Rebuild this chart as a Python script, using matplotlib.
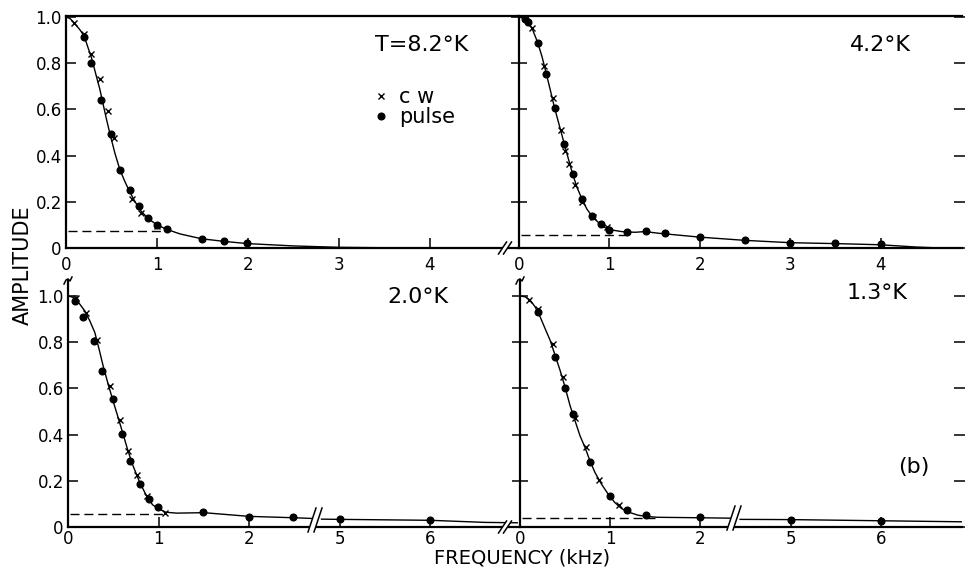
import numpy as np
import matplotlib
matplotlib.use("Agg")
import matplotlib.pyplot as plt
from matplotlib.lines import Line2D
from matplotlib.patches import Polygon
from matplotlib.transforms import Affine2D

W, H = 965, 568

# ---------------- data: frequency (kHz), amplitude ----------------
# T = 8.2 K
cw_82_f = [0.09, 0.20, 0.28, 0.37, 0.46, 0.53, 0.73, 0.82, 1.0]
cw_82_a = [0.975, 0.926, 0.838, 0.730, 0.595, 0.475, 0.211, 0.150, 0.097]
pl_82_f = [0.20, 0.275, 0.39, 0.49, 0.59, 0.70, 0.80, 0.90, 1.0, 1.11, 1.49, 1.74, 1.99]
pl_82_a = [0.912, 0.799, 0.641, 0.492, 0.338, 0.251, 0.182, 0.131, 0.100, 0.082, 0.038, 0.029, 0.020]
fit_82_f = [0, 0.044, 0.088, 0.154, 0.198, 0.245, 0.282, 0.330, 0.374, 0.410, 0.447, 0.491,
            0.538, 0.593, 0.648, 0.696, 0.758, 0.824, 0.905, 0.996, 1.106, 1.253, 1.49, 1.75,
            2.0, 2.5, 3.0, 3.5, 4.0, 5.0]
fit_82_a = [1.0, 0.993, 0.975, 0.944, 0.918, 0.864, 0.821, 0.749, 0.684, 0.619, 0.554, 0.482,
            0.410, 0.338, 0.287, 0.247, 0.201, 0.160, 0.127, 0.101, 0.081, 0.061, 0.040, 0.028,
            0.019, 0.009, 0.003, 0.001, 0.0, 0.0]
base_82 = (0.075, 1.1)

# T = 4.2 K
cw_42_f = [0.143, 0.279, 0.371, 0.467, 0.511, 0.555, 0.621, 0.70, 0.82, 0.97]
cw_42_a = [0.952, 0.789, 0.648, 0.509, 0.419, 0.364, 0.274, 0.20, 0.135, 0.09]
pl_42_f = [0.063, 0.099, 0.206, 0.301, 0.393, 0.50, 0.592, 0.695, 0.805, 0.908, 1.0, 1.2,
           1.404, 1.61, 2.0, 2.5, 3.0, 3.5, 4.0]
pl_42_a = [0.99, 0.977, 0.887, 0.754, 0.607, 0.451, 0.321, 0.212, 0.139, 0.103, 0.078, 0.071,
           0.074, 0.067, 0.048, 0.033, 0.023, 0.020, 0.016]
fit_42_f = [0, 0.033, 0.099, 0.143, 0.206, 0.254, 0.301, 0.346, 0.393, 0.445, 0.5, 0.548,
            0.592, 0.64, 0.695, 0.75, 0.805, 0.879, 0.952, 1.026, 1.136, 1.283, 1.393, 1.54,
            2.0, 2.5, 3.0, 3.5, 4.0, 4.2, 4.4, 4.6, 5.0]
fit_42_a = [1.0, 0.996, 0.977, 0.952, 0.890, 0.829, 0.756, 0.684, 0.607, 0.532, 0.452, 0.383,
            0.322, 0.264, 0.213, 0.169, 0.139, 0.110, 0.088, 0.078, 0.071, 0.068, 0.071, 0.064,
            0.047, 0.033, 0.023, 0.019, 0.014, 0.009, 0.004, 0.001, 0.0]
base_42 = (0.055, 1.2)

# T = 2.0 K
cw_20_f = [0.088, 0.197, 0.325, 0.467, 0.569, 0.668, 0.759, 0.869, 1.073]
cw_20_a = [0.989, 0.925, 0.809, 0.61, 0.465, 0.329, 0.225, 0.136, 0.060]
pl_20_f = [0.077, 0.168, 0.288, 0.380, 0.496, 0.595, 0.690, 0.796, 0.898, 0.989, 1.489,
           2.0, 2.49, 5.0, 6.0]
pl_20_a = [0.978, 0.907, 0.806, 0.677, 0.552, 0.402, 0.287, 0.187, 0.121, 0.085, 0.063,
           0.045, 0.042, 0.033, 0.030]
fit_20_f = [0, 0.04, 0.088, 0.131, 0.186, 0.241, 0.296, 0.343, 0.387, 0.442, 0.496, 0.551,
            0.606, 0.66, 0.715, 0.788, 0.861, 0.934, 1.007, 1.08, 1.2, 1.5, 2.0, 2.5, 2.7]
fit_20_a = [1.0, 0.996, 0.986, 0.964, 0.935, 0.892, 0.842, 0.770, 0.699, 0.620, 0.548, 0.477,
            0.405, 0.333, 0.268, 0.197, 0.139, 0.096, 0.078, 0.064, 0.060, 0.062, 0.046,
            0.040, 0.037]
tail_20_f = [4.8, 5.0, 6.0, 6.6, 7.0]
tail_20_a = [0.034, 0.033, 0.029, 0.020, 0.018]
base_20 = (0.057, 1.07)

# T = 1.3 K
cw_13_f = [0.096, 0.199, 0.371, 0.474, 0.61, 0.728, 0.875, 1.096]
cw_13_a = [0.984, 0.943, 0.792, 0.65, 0.47, 0.347, 0.202, 0.095]
pl_13_f = [0.199, 0.39, 0.5, 0.585, 0.776, 0.996, 1.19, 1.40, 2.0, 5.0, 6.0]
pl_13_a = [0.93, 0.734, 0.60, 0.491, 0.283, 0.134, 0.072, 0.051, 0.042, 0.032, 0.027]
fit_13_f = [0, 0.059, 0.114, 0.169, 0.224, 0.279, 0.335, 0.39, 0.445, 0.5, 0.555, 0.61,
            0.665, 0.721, 0.776, 0.831, 0.904, 0.978, 1.051, 1.125, 1.199, 1.309, 1.419,
            1.529, 2.0, 2.36]
fit_13_a = [1.0, 0.996, 0.981, 0.952, 0.909, 0.858, 0.807, 0.742, 0.677, 0.605, 0.525, 0.46,
            0.395, 0.344, 0.286, 0.236, 0.185, 0.142, 0.106, 0.080, 0.065, 0.051, 0.045,
            0.042, 0.040, 0.038]
tail_13_f = [4.44, 5.0, 6.0, 7.0]
tail_13_a = [0.033, 0.032, 0.027, 0.022]
base_13 = (0.037, 1.5)

y_ticks = [0, 0.2, 0.4, 0.6, 0.8, 1.0]
y_labels = ["0", "0.2", "0.4", "0.6", "0.8", "1.0"]
x_ticks_top = [0, 1, 2, 3, 4]
x_ticks_bot = [0, 1, 2, 5, 6]


def broken_axis(lo, hi, shift=2.0):
    # frequencies between lo and hi are squeezed into a narrow gap, above hi shifted left
    k = (hi - shift - lo) / (hi - lo)

    def fwd(f):
        f = np.asarray(f, float)
        return np.where(f <= lo, f, np.where(f >= hi, f - shift, lo + (f - lo) * k))

    def inv(d):
        d = np.asarray(d, float)
        return np.where(d <= lo, d, np.where(d >= hi - shift, d + shift, lo + (d - lo) / k))
    return fwd, inv


fig = plt.figure(figsize=(W / 100, H / 100), dpi=100)
px = Affine2D().scale(1.0 / W, -1.0 / H).translate(0, 1) + fig.transFigure


def box(l, r, t, b):
    return [l / W, 1 - b / H, (r - l) / W, (b - t) / H]


ax1 = fig.add_axes(box(66, 518, 16, 248))
ax2 = fig.add_axes(box(519, 962, 16, 248))
ax3 = fig.add_axes(box(68, 518, 280, 527))
ax4 = fig.add_axes(box(520, 962, 280, 527))

ax3.set_xscale("function", functions=broken_axis(2.72, 4.78))
ax4.set_xscale("function", functions=broken_axis(2.38, 4.44))

ax1.set_xlim(0, 4.97)
ax2.set_xlim(0, 4.90)
ax3.set_xlim(0, 6.97)
ax4.set_xlim(0, 6.90)
ax1.set_ylim(0, 1.004)
ax2.set_ylim(0, 1.004)
ax3.set_ylim(0, 1.069)
ax4.set_ylim(0, 1.069)

dot_kw = dict(ls="none", marker="o", ms=4.8, color="black", zorder=4)
crs_kw = dict(ls="none", marker="x", ms=4.3, mew=1.0, color="black", zorder=4)
fit_kw = dict(color="black", lw=1.0, zorder=3)
dash_kw = dict(color="black", lw=1.0, ls=(0, (6.5, 3.5)), zorder=3)

panels = [
    (ax1, cw_82_f, cw_82_a, pl_82_f, pl_82_a, [(fit_82_f, fit_82_a)], base_82),
    (ax2, cw_42_f, cw_42_a, pl_42_f, pl_42_a, [(fit_42_f, fit_42_a)], base_42),
    (ax3, cw_20_f, cw_20_a, pl_20_f, pl_20_a, [(fit_20_f, fit_20_a), (tail_20_f, tail_20_a)], base_20),
    (ax4, cw_13_f, cw_13_a, pl_13_f, pl_13_a, [(fit_13_f, fit_13_a), (tail_13_f, tail_13_a)], base_13),
]

for ax, cf, ca, pf, pa, fits, base in panels:
    for ff, fa in fits:
        ax.plot(ff, fa, **fit_kw)
    ax.plot([0.02, base[1]], [base[0], base[0]], **dash_kw)
    ax.plot(cf, ca, label="c w", **crs_kw)
    ax.plot(pf, pa, label="pulse", **dot_kw)
    for s in ax.spines.values():
        s.set_linewidth(1.6)
    ax.spines["right"].set_visible(False)
    ax.set_yticks(y_ticks)
    ax.tick_params(axis="x", direction="in", length=7, width=1.1, labelsize=12)
    ax.patch.set_alpha(0)

for ax in (ax3, ax4):
    ax.spines["top"].set_visible(False)

ax1.set_xticks(x_ticks_top)
ax2.set_xticks(x_ticks_top)
ax1.tick_params(axis="x", pad=6)
ax2.tick_params(axis="x", pad=6)
for ax in (ax3, ax4):
    ax.set_xticks(x_ticks_bot)
    ax.set_xticklabels([str(t) for t in x_ticks_bot])
    ax.tick_params(axis="x", pad=2.5)
    ax.minorticks_off()

for ax in (ax1, ax3):
    ax.set_yticklabels(y_labels)
    ax.tick_params(axis="y", direction="in", length=7, width=1.1, labelsize=12, pad=3)
for ax in (ax2, ax4):
    ax.tick_params(axis="y", direction="inout", length=11, width=1.1,
                   left=True, right=True, labelleft=False)

# legend of the first panel
ax1.legend(loc="upper left", bbox_to_anchor=(374 / W, 1 - 87 / H),
           bbox_transform=fig.transFigure, frameon=False, fontsize=15,
           borderpad=0, handlelength=0.7, handletextpad=0.5, labelspacing=0.0,
           borderaxespad=0)

# temperature labels
fig.text(375 / W, 1 - 45 / H, "T=8.2°K", fontsize=16, ha="left", va="center")
fig.text(850 / W, 1 - 45 / H, "4.2°K", fontsize=16, ha="left", va="center")
fig.text(387 / W, 1 - 297 / H, "2.0°K", fontsize=16, ha="left", va="center")
fig.text(847 / W, 1 - 293 / H, "1.3°K", fontsize=16, ha="left", va="center")
fig.text(898 / W, 1 - 467 / H, "(b)", fontsize=16, ha="left", va="center")

fig.text(23 / W, 1 - 265 / H, "AMPLITUDE", fontsize=15, rotation=90,
         ha="center", va="center")
fig.text(522 / W, 1 - 558 / H, "FREQUENCY (kHz)", fontsize=14,
         ha="center", va="center")


# axis break marks, drawn in image pixel coordinates
def slash_pair(xc, yc, half_h, slant, gap):
    x0, x1 = xc - gap / 2, xc + gap / 2
    poly = [(x0 - slant, yc + half_h), (x0 + slant, yc - half_h),
            (x1 + slant, yc - half_h), (x1 - slant, yc + half_h)]
    fig.add_artist(Polygon(poly, closed=True, transform=px, facecolor="white",
                           edgecolor="none", zorder=10))
    for xx in (x0, x1):
        fig.add_artist(Line2D([xx - slant, xx + slant], [yc + half_h, yc - half_h],
                              transform=px, color="black", lw=1.1, zorder=11))


slash_pair(505, 248, 6, 4, 5)
slash_pair(505, 527, 6, 4, 5)
slash_pair(315, 520, 12, 4, 6)
slash_pair(734, 518, 12, 4, 6)

# squiggles where the lower frames start
for xs in (68, 520):
    fig.add_artist(Line2D([xs - 4, xs - 2, xs, xs + 2, xs + 4],
                          [284, 280, 279, 281, 277],
                          transform=px, color="black", lw=1.1, zorder=11))

fig.savefig("out.png", dpi=100)
